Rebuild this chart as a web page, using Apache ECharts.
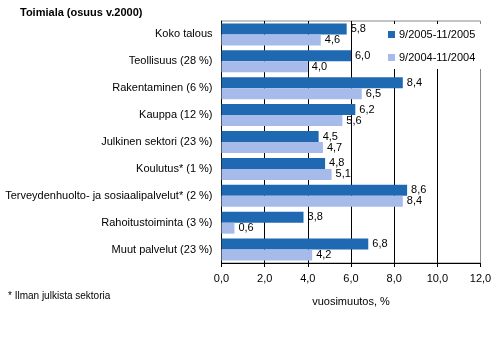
<!DOCTYPE html>
<html>
<head>
<meta charset="utf-8">
<script src="https://cdn.jsdelivr.net/npm/echarts@6/dist/echarts.min.js"></script>
<style>html,body{margin:0;padding:0;background:#fff;}#c{width:497px;height:342px;}</style>
</head>
<body>
<div id="c"></div>
<script>
const categories = [
  'Koko talous',
  'Teollisuus (28 %)',
  'Rakentaminen (6 %)',
  'Kauppa (12 %)',
  'Julkinen sektori (23 %)',
  'Koulutus* (1 %)',
  'Terveydenhuolto- ja sosiaalipalvelut* (2 %)',
  'Rahoitustoiminta (3 %)',
  'Muut palvelut (23 %)'
];
const seriesNames = ['9/2005-11/2005', '9/2004-11/2004'];
const values2005 = [5.8, 6.0, 8.4, 6.2, 4.5, 4.8, 8.6, 3.8, 6.8];
const values2004 = [4.6, 4.0, 6.5, 5.6, 4.7, 5.1, 8.4, 0.6, 4.2];
const xTicks = { min: 0, max: 12, interval: 2 };
const titleText = 'Toimiala (osuus v.2000)';
const axisName = 'vuosimuutos, %';
const footnote = '* Ilman julkista sektoria';

const FONT = '"Liberation Sans", Arial, sans-serif';
const fmt = v => Number(v).toFixed(1).replace('.', ',');

const chart = echarts.init(document.getElementById('c'), null, { renderer: 'canvas' });
const labelCfg = {
  show: true, position: 'right', distance: 4,
  color: '#000', fontSize: 11, fontFamily: FONT,
  formatter: p => fmt(p.value)
};
chart.setOption({
  animation: false,
  backgroundColor: '#fff',
  title: {
    text: titleText, left: 15, top: 2,
    textStyle: { fontSize: 11, fontWeight: 'bold', color: '#000', fontFamily: FONT }
  },
  legend: {
    orient: 'vertical', left: 380, top: 24,
    padding: [5, 8, 6, 8],
    backgroundColor: '#fff',
    itemWidth: 7, itemHeight: 7, itemGap: 12,
    icon: 'rect',
    textStyle: { fontSize: 11, color: '#000', fontFamily: FONT, padding: [0, 0, 0, -1] },
    data: seriesNames
  },
  grid: { left: 221.5, right: 16.5, top: 21, bottom: 79, show: true, borderColor: '#888', borderWidth: 1, containLabel: false },
  xAxis: {
    type: 'value', min: xTicks.min, max: xTicks.max, interval: xTicks.interval,
    name: axisName, nameLocation: 'middle', nameGap: 33,
    nameTextStyle: { fontSize: 11, color: '#000', fontFamily: FONT },
    axisLine: { show: true, lineStyle: { color: '#000', width: 1 } },
    axisTick: { show: true, length: 4, lineStyle: { color: '#000' } },
    axisLabel: { fontSize: 11, color: '#000', fontFamily: FONT, margin: 10, formatter: v => fmt(v) },
    splitLine: { show: true, showMinLine: false, showMaxLine: false, lineStyle: { color: '#000', width: 1 } }
  },
  yAxis: {
    type: 'category', data: categories, inverse: true,
    axisLine: { show: true, lineStyle: { color: '#000', width: 1 } },
    axisTick: { show: false },
    axisLabel: { fontSize: 11, color: '#000', fontFamily: FONT, margin: 9 }
  },
  series: [
    { name: seriesNames[0], type: 'bar', data: values2005, barWidth: 11, barGap: '0%',
      itemStyle: { color: '#1f69b2' }, label: labelCfg },
    { name: seriesNames[1], type: 'bar', data: values2004, barWidth: 11, barGap: '0%',
      itemStyle: { color: '#a6bbe9' }, label: labelCfg }
  ],
  graphic: [
    { type: 'text', left: 8, top: 291,
      style: { text: footnote, fontSize: 10, fill: '#000', fontFamily: FONT } }
  ]
});
</script>
</body>
</html>
